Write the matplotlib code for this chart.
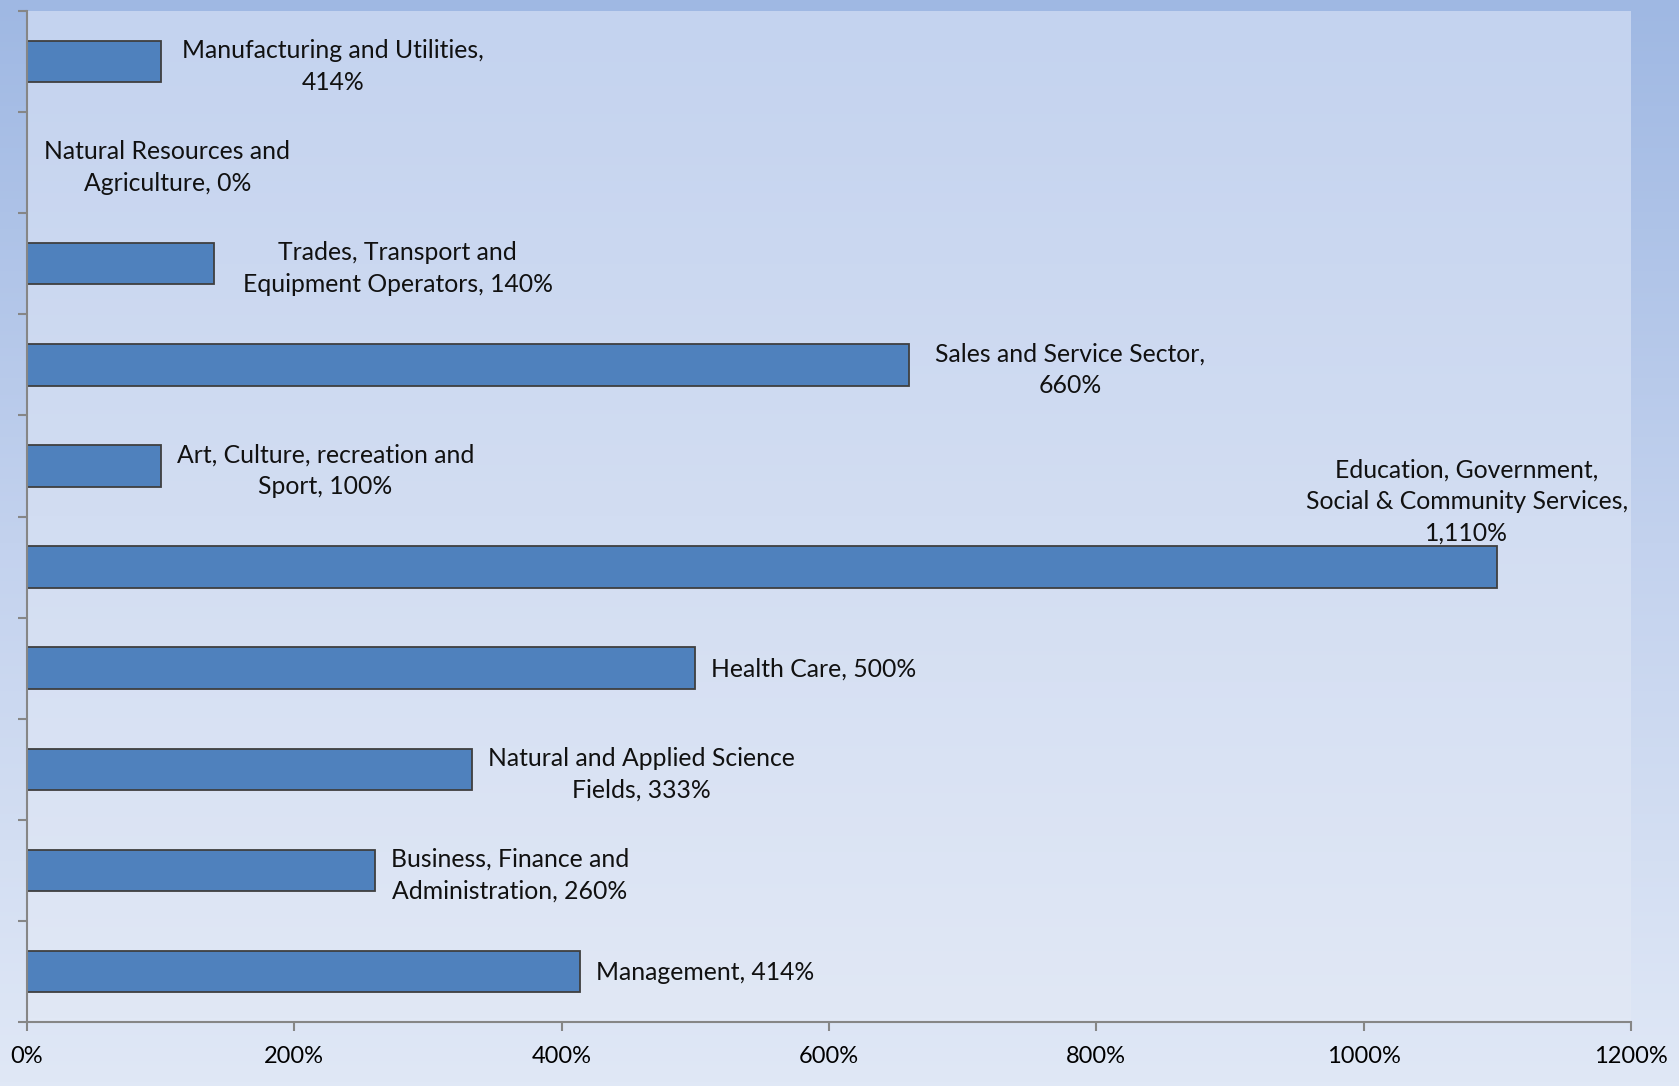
import numpy as np
import matplotlib.pyplot as plt
import matplotlib.colors as colors

plt.rcParams['font.family'] = ['Lato', 'DejaVu Sans']

# categories top to bottom
categories = ["Manufacturing and Utilities,", "Natural Resources and\nAgriculture,",
              "Trades, Transport and\nEquipment Operators,", "Sales and Service Sector,",
              "Art, Culture, recreation and\nSport,",
              "Education, Government,\nSocial & Community Services,",
              "Health Care,", "Natural and Applied Science\nFields,",
              "Business, Finance and\nAdministration,", "Management,"]
bar_values = [100, 0, 140, 660, 100, 1100, 500, 333, 260, 414]
label_values = ["414%", "0%", "140%", "660%", "100%", "1,110%", "500%", "333%", "260%", "414%"]
# does the value go on a new line after the category
value_newline = [True, False, False, True, False, True, False, False, False, False]

xticks = [0, 200, 400, 600, 800, 1000, 1200]

fig = plt.figure(figsize=(16.79, 10.86), dpi=100)

# outer background gradient
bg = fig.add_axes([0, 0, 1, 1], zorder=-10)
bg.set_axis_off()
outer = colors.LinearSegmentedColormap.from_list("outer", ["#9fb8e3", "#c3d2ee", "#e0e8f6"])
bg.imshow(np.linspace(0, 1, 256).reshape(-1, 1), cmap=outer, aspect="auto",
          extent=[0, 1, 0, 1], origin="upper")

ax = fig.add_axes([27/1679, 1 - 1022/1086, (1631-27)/1679, (1022-11)/1086])
inner = colors.LinearSegmentedColormap.from_list("inner", ["#c4d3ef", "#d2ddf2", "#e1e8f5"])
ax.imshow(np.linspace(0, 1, 256).reshape(-1, 1), cmap=inner, aspect="auto",
          extent=[0, 1, 0, 1], origin="upper", transform=ax.transAxes, zorder=0)

n = len(categories)
y = np.arange(n)
ax.barh(y, bar_values, height=0.41, color="#4f81bd", edgecolor="#3f3f3f",
        linewidth=1.3, zorder=2)

ax.set_xlim(0, 1200)
ax.set_ylim(n - 0.5, -0.5)

# excel nudges a few labels a bit further out
extra = {0: 4, 1: 1, 2: 9, 3: 7}

for i in range(n):
    sep = "\n" if value_newline[i] else " "
    txt = categories[i] + sep + label_values[i]
    if i == 5:
        ax.annotate(txt, (bar_values[i], y[i]), xytext=(-22, 47), textcoords="offset points",
                    ha="center", va="center", multialignment="center", fontsize=17.8,
                    linespacing=1.45, color="#111111", zorder=3)
    else:
        dy = -3.5 if "\n" in txt else -0.5
        ax.annotate(txt, (bar_values[i], y[i]), xytext=(11.5 + extra.get(i, 0), dy),
                    textcoords="offset points",
                    ha="left", va="center", multialignment="center", fontsize=17.8,
                    linespacing=1.45, color="#111111", zorder=3)

ax.set_xticks(xticks)
ax.set_xticklabels([f"{v}%" for v in xticks], fontsize=17)
ax.set_yticks(np.arange(-0.5, n, 1.0))
ax.set_yticklabels([])

for s in ["top", "right"]:
    ax.spines[s].set_visible(False)
for s in ["left", "bottom"]:
    ax.spines[s].set_color("#868686")
    ax.spines[s].set_linewidth(1.5)
ax.tick_params(axis="both", color="#868686", length=6.5, width=1.5)
ax.tick_params(axis="x", pad=11)

fig.savefig("out.png", dpi=100)
